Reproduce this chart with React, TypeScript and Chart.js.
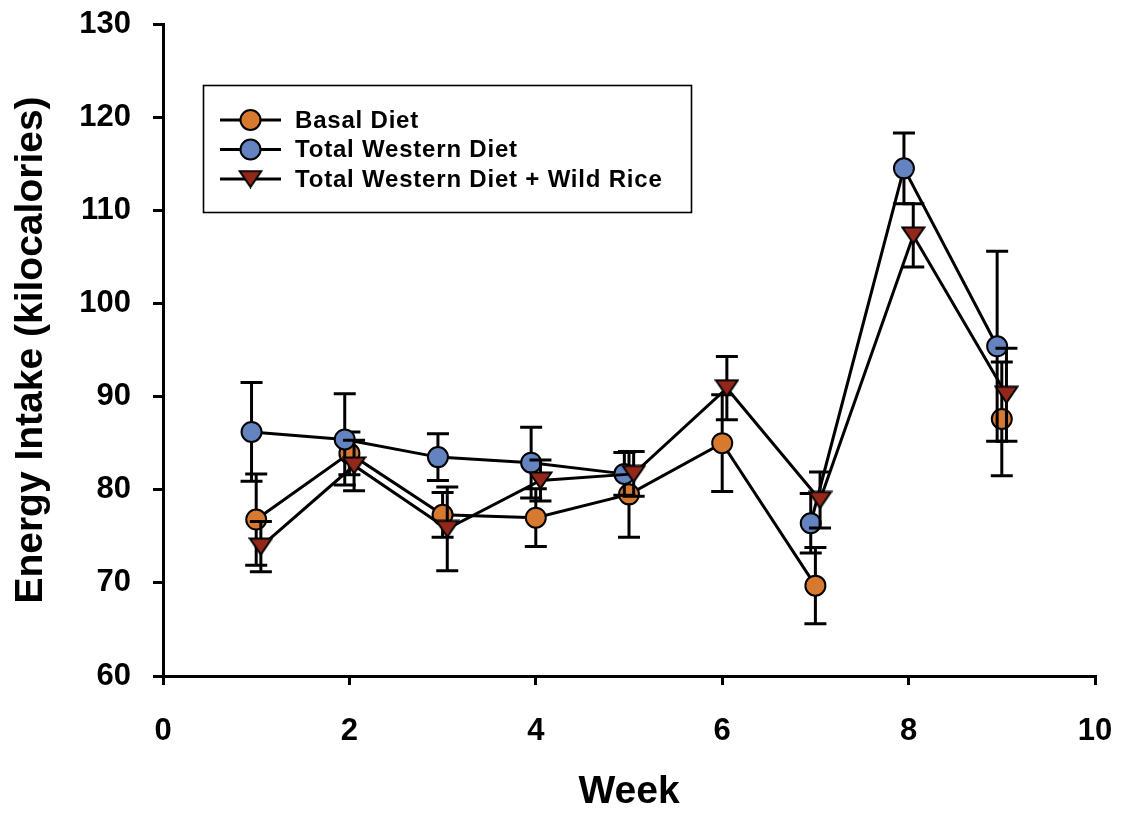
import React, { useEffect, useRef } from "react";
import { Chart, registerables } from "chart.js";

Chart.register(...registerables);

// ---- data ----
const weeks = [1, 2, 3, 4, 5, 6, 7, 8, 9];
const seriesNames = ["Basal Diet", "Total Western Diet", "Total Western Diet + Wild Rice"];
const basalMeans = [76.8, 83.9, 77.3, 77.0, 79.5, 85.0, 69.7, null, 87.6];
const basalErrors = [4.9, 2.3, 2.4, 3.1, 4.6, 5.2, 4.1, null, 6.1];
const westernMeans = [86.2, 85.4, 83.5, 82.9, 81.7, null, 76.4, 114.5, 95.4];
const westernErrors = [5.3, 4.9, 2.5, 3.8, 2.3, null, 3.2, 3.8, 10.2];
const wildRiceMeans = [73.9, 82.6, 75.8, 81.0, 81.7, 90.9, 78.9, 107.3, 90.2];
const wildRiceErrors = [2.7, 2.7, 4.5, 2.2, 2.4, 3.4, 3.0, 3.4, 5.0];
const seriesOffsets = [0, -0.05, 0.05]; // small horizontal jitter per series (in weeks)

const X_TITLE = "Week";
const Y_TITLE = "Energy Intake (kilocalories)";

const ORANGE = "#d77a30";
const BLUE = "#6383c1";
const RED = "#93281a";
const FONT = "'Liberation Sans', Arial, Helvetica, sans-serif";

function makeTriangle(): HTMLCanvasElement {
  const c = document.createElement("canvas");
  c.width = 25;
  c.height = 19;
  const g = c.getContext("2d")!;
  g.beginPath();
  g.moveTo(1.5, 1.5);
  g.lineTo(23.5, 1.5);
  g.lineTo(12.5, 17.5);
  g.closePath();
  g.fillStyle = RED;
  g.fill();
  g.lineWidth = 2;
  g.lineJoin = "miter";
  g.strokeStyle = "#000";
  g.stroke();
  return c;
}

const errorBarPlugin = {
  id: "errorBars",
  beforeDatasetDraw(chart: any, args: any) {
    const ds = chart.data.datasets[args.index];
    const errs: (number | null)[] = ds.errors;
    if (!errs) return;
    const ys = chart.scales.y;
    const ctx = chart.ctx as CanvasRenderingContext2D;
    ctx.save();
    ctx.strokeStyle = "#000";
    ctx.lineWidth = 3;
    ctx.lineCap = "butt";
    args.meta.data.forEach((pt: any, i: number) => {
      const raw = ds.data[i];
      const e = errs[i];
      if (!raw || raw.y == null || e == null || !isFinite(pt.x)) return;
      const x = pt.x;
      const yTop = ys.getPixelForValue(raw.y + e);
      const yBot = ys.getPixelForValue(raw.y - e);
      ctx.beginPath();
      ctx.moveTo(x, yTop);
      ctx.lineTo(x, yBot);
      ctx.moveTo(x - 11, yTop);
      ctx.lineTo(x + 11, yTop);
      ctx.moveTo(x - 11, yBot);
      ctx.lineTo(x + 11, yBot);
      ctx.stroke();
    });
    ctx.restore();
  },
};

function makeLegendPlugin(tri: HTMLCanvasElement) {
  return {
    id: "boxLegend",
    afterDraw(chart: any) {
      const ctx = chart.ctx as CanvasRenderingContext2D;
      ctx.save();
      ctx.strokeStyle = "#000";
      ctx.lineWidth = 1.6;
      ctx.strokeRect(203.5, 85.5, 488, 127);
      const rows = [120, 149.5, 179];
      const fills = [ORANGE, BLUE, RED];
      seriesNames.forEach((name, i) => {
        const y = rows[i];
        ctx.beginPath();
        ctx.lineWidth = 3;
        ctx.moveTo(220, y);
        ctx.lineTo(281, y);
        ctx.stroke();
        if (i < 2) {
          ctx.beginPath();
          ctx.arc(250.5, y, 10, 0, Math.PI * 2);
          ctx.fillStyle = fills[i];
          ctx.fill();
          ctx.lineWidth = 2;
          ctx.stroke();
        } else {
          ctx.drawImage(tri, 250.5 - tri.width / 2, y - tri.height / 2);
        }
        ctx.fillStyle = "#000";
        ctx.font = `bold 24px ${FONT}`;
        (ctx as any).letterSpacing = "0.8px";
        ctx.textAlign = "left";
        ctx.textBaseline = "middle";
        ctx.fillText(name, 295, y + 1);
        (ctx as any).letterSpacing = "0px";
      });
      ctx.restore();
    },
  };
}

export default function App() {
  const ref = useRef<HTMLCanvasElement | null>(null);

  useEffect(() => {
    if (!ref.current) return;
    const tri = makeTriangle();
    const mk = (means: (number | null)[], off: number) =>
      weeks.map((w, i) => ({ x: w + off, y: means[i] }));

    const chart = new Chart(ref.current, {
      type: "line",
      data: {
        datasets: [
          {
            label: seriesNames[0],
            data: mk(basalMeans, seriesOffsets[0]),
            errors: basalErrors,
            borderColor: "#000",
            borderWidth: 3,
            backgroundColor: ORANGE,
            pointBackgroundColor: ORANGE,
            pointBorderColor: "#000",
            pointBorderWidth: 2,
            pointRadius: 10,
            pointStyle: "circle",
            spanGaps: false,
            order: 2,
          } as any,
          {
            label: seriesNames[1],
            data: mk(westernMeans, seriesOffsets[1]),
            errors: westernErrors,
            borderColor: "#000",
            borderWidth: 3,
            backgroundColor: BLUE,
            pointBackgroundColor: BLUE,
            pointBorderColor: "#000",
            pointBorderWidth: 2,
            pointRadius: 10,
            pointStyle: "circle",
            spanGaps: false,
            order: 1,
          } as any,
          {
            label: seriesNames[2],
            data: mk(wildRiceMeans, seriesOffsets[2]),
            errors: wildRiceErrors,
            borderColor: "#000",
            borderWidth: 3,
            backgroundColor: RED,
            pointBackgroundColor: RED,
            pointBorderColor: "#000",
            pointBorderWidth: 2,
            pointRadius: 10,
            pointStyle: tri,
            spanGaps: false,
            order: 0,
          } as any,
        ],
      },
      options: {
        animation: false,
        responsive: true,
        maintainAspectRatio: false,
        events: [],
        layout: { padding: { left: 0, right: 30, top: 24, bottom: 0 } },
        plugins: {
          legend: { display: false },
          tooltip: { enabled: false },
        },
        scales: {
          x: {
            type: "linear",
            min: 0,
            max: 10,
            afterFit: (s: any) => {
              s.height = 141;
              s.paddingLeft = 0;
              s.paddingRight = 0;
            },
            ticks: {
              stepSize: 2,
              color: "#000",
              padding: 28,
              font: { family: FONT, size: 31, weight: "bold" },
            },
            grid: {
              display: true,
              drawOnChartArea: false,
              drawTicks: true,
              tickLength: 9,
              tickColor: "#000",
              tickWidth: 3,
              color: "#000",
              lineWidth: 3,
            },
            border: { display: true, color: "#000", width: 3 },
            title: {
              display: true,
              text: X_TITLE,
              color: "#000",
              font: { family: FONT, size: 39, weight: "bold" },
              padding: { top: 0, bottom: 1 },
            },
          },
          y: {
            type: "linear",
            min: 60,
            max: 130,
            afterFit: (s: any) => {
              s.width = 163;
              s.paddingTop = 0;
              s.paddingBottom = 0;
            },
            ticks: {
              stepSize: 10,
              color: "#000",
              padding: 22,
              font: { family: FONT, size: 31, weight: "bold" },
            },
            grid: {
              display: true,
              drawOnChartArea: false,
              drawTicks: true,
              tickLength: 10,
              tickColor: "#000",
              tickWidth: 3,
              color: "#000",
              lineWidth: 3,
            },
            border: { display: true, color: "#000", width: 3 },
            title: {
              display: true,
              text: Y_TITLE,
              color: "#000",
              font: { family: FONT, size: 39, weight: "bold" },
              padding: { top: 8, bottom: 0 },
            },
          },
        },
      } as any,
      plugins: [errorBarPlugin, makeLegendPlugin(tri)],
    });
    return () => chart.destroy();
  }, []);

  return (
    <div style={{ position: "absolute", left: 0, top: 0, width: 1125, height: 817, background: "#fff" }}>
      <canvas ref={ref} />
    </div>
  );
}
